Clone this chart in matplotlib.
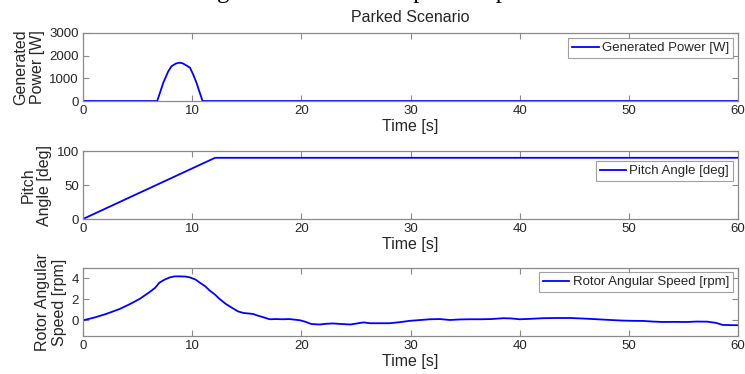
import matplotlib
matplotlib.use("Agg")
import matplotlib.pyplot as plt

# Generated power [W]
power_t = [0, 6.8, 7.35, 7.8, 8.1, 8.5, 8.8, 9.1, 9.5, 9.8, 10.1, 10.4, 10.6, 10.8, 10.95, 60]
power_v = [0, 0, 800, 1300, 1530, 1650, 1690, 1670, 1560, 1470, 1160, 800, 500, 220, 0, 0]

# Pitch angle [deg]
pitch_t = [0, 12.1, 60]
pitch_v = [0, 90, 90]

# Rotor angular speed [rpm]
rotor_t = [0, 1.0, 2.1, 3.4, 4.3, 5.2, 6.1, 6.6, 7.0, 7.5, 7.95, 8.4, 8.9, 9.4, 9.8, 10.3,
           10.7, 11.2, 11.6, 12.1, 12.5, 13.1, 13.8, 14.2, 14.7, 15.2, 15.6, 16.0, 16.5,
           17.1, 17.7, 18.3, 18.9, 19.5, 19.9, 20.4, 20.9, 21.3, 21.7, 22.3, 22.9, 23.6,
           24.5, 25.1, 25.7, 26.3, 27.2, 28.1, 29.0, 29.95, 30.8, 31.8, 32.7, 33.6, 34.5,
           35.4, 36.4, 37.4, 38.5, 39.2, 40.0, 41.0, 42.1, 43.3, 44.6, 45.8, 47.1, 48.3,
           49.5, 50.4, 51.3, 52.2, 53.1, 54.2, 55.3, 56.2, 57.2, 58.0, 58.6, 59.3, 60.0]
rotor_v = [0.0, 0.25, 0.6, 1.1, 1.55, 2.05, 2.7, 3.1, 3.6, 3.9, 4.1, 4.2, 4.2, 4.18, 4.1, 3.9,
           3.6, 3.25, 2.85, 2.45, 2.05, 1.55, 1.1, 0.85, 0.7, 0.65, 0.6, 0.45, 0.3,
           0.1, 0.12, 0.1, 0.12, 0.05, 0.0, -0.15, -0.35, -0.38, -0.4, -0.33, -0.3, -0.35,
           -0.4, -0.3, -0.2, -0.28, -0.28, -0.28, -0.18, -0.05, 0.02, 0.1, 0.12, 0.03, 0.08,
           0.1, 0.1, 0.12, 0.2, 0.18, 0.1, 0.14, 0.2, 0.22, 0.22, 0.17, 0.1, 0.03,
           -0.03, -0.05, -0.06, -0.12, -0.16, -0.15, -0.16, -0.12, -0.13, -0.25, -0.44, -0.46, -0.47]

time_ticks = [0, 10, 20, 30, 40, 50, 60]

LINE = "#0000ff"
SPINE = "#8a8a8a"
TXT = "#262626"

plt.rcParams["font.family"] = ["Liberation Sans", "DejaVu Sans"]

fig = plt.figure(figsize=(7.45, 3.74), dpi=100)

# Caption of the surrounding document, running off the top edge
fig.text(90 / 745, 1 + 2.5 / 374,
         "Rotor braking and shutdown output of a parked turbine",
         family=["Liberation Serif", "DejaVu Serif"], fontsize=18,
         ha="left", va="baseline", color="black")

panels = [
    dict(rect=[83 / 745, 1 - 101 / 374, 655 / 745, 68 / 374], t=power_t, v=power_v,
         ylim=(0, 3000), yticks=[0, 1000, 2000, 3000],
         ylabel="Generated\nPower [W]", label="Generated Power [W]", leg_y=(101 - 38) / 68),
    dict(rect=[83 / 745, 1 - 219 / 374, 655 / 745, 68 / 374], t=pitch_t, v=pitch_v,
         ylim=(0, 100), yticks=[0, 50, 100],
         ylabel="Pitch\nAngle [deg]", label="Pitch Angle [deg]", leg_y=(219 - 161) / 68),
    dict(rect=[83 / 745, 1 - 336 / 374, 655 / 745, 68 / 374], t=rotor_t, v=rotor_v,
         ylim=(-1.5, 5), yticks=[0, 2, 4],
         ylabel="Rotor Angular\nSpeed [rpm]", label="Rotor Angular Speed [rpm]", leg_y=(336 - 272) / 68),
]

axes = []
for i, p in enumerate(panels):
    ax = fig.add_axes(p["rect"])
    ax.plot(p["t"], p["v"], color=LINE, lw=1.3, label=p["label"])
    ax.set_xlim(0, 60)
    ax.set_ylim(*p["ylim"])
    ax.set_xticks(time_ticks)
    ax.set_yticks(p["yticks"])
    for s in ax.spines.values():
        s.set_color(SPINE)
        s.set_linewidth(0.9)
    ax.tick_params(direction="in", length=4.5, width=0.8, color=SPINE,
                   top=True, right=True, labelsize=9.5, labelcolor=TXT, pad=3)
    ax.set_xlabel("Time [s]", fontsize=11.5, color=TXT, labelpad=1)
    ax.set_ylabel(p["ylabel"], fontsize=11.5, color=TXT, labelpad=3, linespacing=1.15)
    leg = ax.legend(loc="upper right", bbox_to_anchor=(0.9924, p["leg_y"]),
                    borderaxespad=0, fontsize=9.5, frameon=True, fancybox=False,
                    handlelength=2.0, handletextpad=0.25, borderpad=0.3)
    leg.get_frame().set_edgecolor(SPINE)
    leg.get_frame().set_linewidth(0.8)
    for t in leg.get_texts():
        t.set_color(TXT)
    axes.append(ax)

axes[0].set_title("Parked Scenario", fontsize=11.5, color=TXT, pad=8)

fig.savefig("out.png", dpi=100)
